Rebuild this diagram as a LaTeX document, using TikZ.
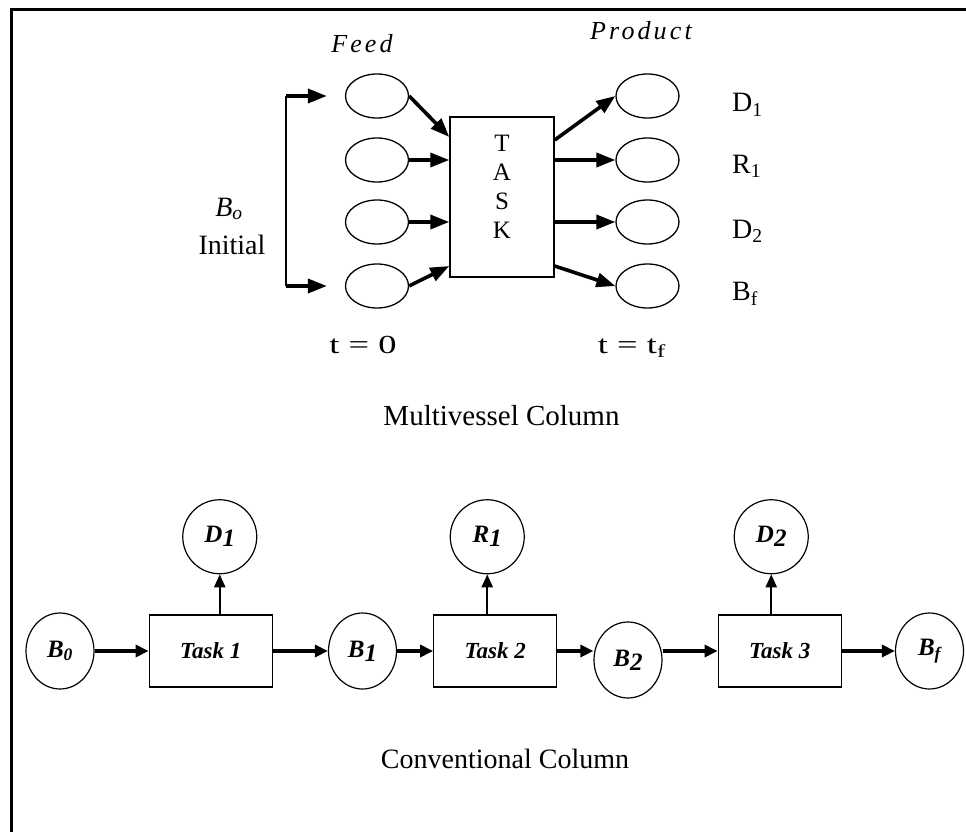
\documentclass[tikz,border=0pt]{standalone}
\usepackage{fontspec}
\setmainfont{Liberation Serif}
\usetikzlibrary{arrows.meta,positioning,shapes.geometric}

\begin{document}
\begin{tikzpicture}[x=1pt,y=-1pt,
      vessel/.style={ellipse,draw,line width=1.3pt,minimum width=63pt,minimum height=44pt,inner sep=0pt},
      taskbox/.style={draw,line width=1.3pt,minimum width=123pt,minimum height=72pt,inner sep=0pt,font=\fontsize{23}{25}\selectfont\bfseries\itshape},
      prod/.style={circle,draw,line width=1.2pt,minimum size=74pt,inner sep=0pt,font=\fontsize{25}{27}\selectfont\bfseries\itshape},
      batch/.style={ellipse,draw,line width=1.2pt,minimum width=68pt,minimum height=76pt,inner sep=0pt,font=\fontsize{25}{27}\selectfont\bfseries\itshape},
      lbl/.style={font=\fontsize{28}{30}\selectfont,inner sep=0pt},
      ilbl/.style={font=\fontsize{26}{28}\selectfont\itshape\addfontfeature{LetterSpace=12},inner sep=0pt},
      fat/.style={-{Triangle[length=19pt,width=14pt]},line width=3.6pt},
      harr/.style={-{Triangle[length=13pt,width=12pt]},line width=3.2pt},
      uparr/.style={-{Triangle[length=13pt,width=11pt]},line width=2.4pt}]
    \useasboundingbox (0,0) rectangle (966,832);
    \draw[line width=2.5pt] (11.5,832) -- (11.5,9.5) -- (966,9.5);
    % multivessel column
    \node[vessel] (f1) at (377,96) {};
    \node[vessel] (f2) at (377,160) {};
    \node[vessel] (f3) at (377,222) {};
    \node[vessel] (f4) at (377,286) {};
    \node[draw,line width=1.4pt,minimum width=104pt,minimum height=160pt,inner sep=0pt] (task) at (502,197) {};
    \node[font=\fontsize{25}{29}\selectfont,align=center,inner sep=0pt] (tasktxt) at ([yshift=10pt]task.center) {T\\A\\S\\K};
    \node[vessel] (p1) at (647.5,96) {};
    \node[vessel] (p2) at (647.5,160) {};
    \node[vessel] (p3) at (647.5,222) {};
    \node[vessel] (p4) at (647.5,286) {};
    \draw[fat] (f1.east) -- ([yshift=60pt]task.west);
    \draw[fat] (f2.east) -- (f2 -| task.west);
    \draw[fat] (f3.east) -- (f3 -| task.west);
    \draw[fat] (f4.east) -- ([yshift=-69pt]task.west);
    \draw[fat] ([yshift=57pt]task.east) -- (p1.west);
    \draw[fat] (task.east |- p2) -- (p2.west);
    \draw[fat] (task.east |- p3) -- (p3.west);
    \draw[fat] ([yshift=-69pt]task.east) -- (p4.west);
    \coordinate (brtop) at (286,96);
    \coordinate (brbot) at (286,286);
    \draw[line width=1.3pt] (brtop) -- (brbot);
    \draw[fat] (brtop) -- ([xshift=-18pt]f1.west);
    \draw[fat] (brbot) -- ([xshift=-18pt]f4.west);
    \node[ilbl,anchor=base] (feed) at (362,53) {Feed};
    \node[ilbl,anchor=base] (product) at (641,40) {Product};
    \node[lbl,font=\fontsize{28}{30}\selectfont\itshape] (bo) at (229,209) {B\textsubscript{o}};
    \node[lbl] (initial) at (232,245) {Initial};
    \node[lbl,anchor=base west] (lD1) at (732,112) {D\textsubscript{1}};
    \node[lbl,anchor=base west] (lR1) at (732,173) {R\textsubscript{1}};
    \node[lbl,anchor=base west] (lD2) at (732,238) {D\textsubscript{2}};
    \node[lbl,anchor=base west] (lBf) at (732,300) {B\textsubscript{f}};
    \node[lbl,font=\fontsize{26}{28}\selectfont,anchor=base] (tzero) at (363,353) {\scalebox{1.4}[1]{t = 0}};
    \node[lbl,font=\fontsize{26}{28}\selectfont,anchor=base] (tend) at (632,353) {\scalebox{1.4}[1]{t = t\textsubscript{f}}};
    \node[lbl,font=\fontsize{29}{31}\selectfont,anchor=base] (multi) at (501.5,425) {Multivessel Column};
    % conventional column
    \node[batch] (b0) at (60,651) {B\textsubscript{0}};
    \node[taskbox,right=54pt of b0] (t1) {Task 1};
    \node[batch,right=55pt of t1] (b1) {B\raisebox{-4pt}{1}};
    \node[taskbox,right=36pt of b1] (t2) {Task 2};
    \node[batch,right=36pt of t2,yshift=-9pt] (b2) {B\raisebox{-4pt}{2}};
    \node[taskbox,right=55pt of b2,yshift=9pt] (t3) {Task 3};
    \node[batch,right=53pt of t3] (bf) {B\textsubscript{f}};
    \node[prod,above=40pt of t1,xshift=9pt] (d1) {D\raisebox{-4pt}{1}};
    \node[prod,above=40pt of t2,xshift=-8pt] (r1) {R\raisebox{-4pt}{1}};
    \node[prod,above=40pt of t3,xshift=-8.5pt] (d2) {D\raisebox{-4pt}{2}};
    \draw[harr] (b0) -- (t1);
    \draw[harr] (t1) -- (b1);
    \draw[harr] (b1) -- (t2);
    \draw[harr] (t2.east) -- (t2 -| b2.west);
    \draw[harr] (b2.east |- t3) -- (t3.west);
    \draw[harr] (t3) -- (bf);
    \draw[uparr] (d1 |- t1.north) -- (d1);
    \draw[uparr] (r1 |- t2.north) -- (r1);
    \draw[uparr] (d2 |- t3.north) -- (d2);
    \node[lbl,font=\fontsize{28}{30}\selectfont,anchor=base] (conv) at (505,768) {Conventional Column};
  \end{tikzpicture}
\end{document}
